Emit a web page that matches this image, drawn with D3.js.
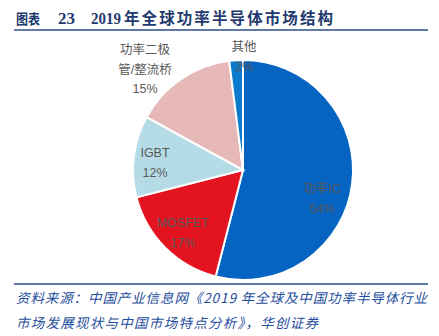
<!DOCTYPE html>
<html><head><meta charset="utf-8">
<script src="https://cdn.jsdelivr.net/npm/d3@7"></script>
<style>body{margin:0;background:#fff;}svg{display:block;}</style>
</head><body>
<script>
const categories = ["功率IC", "MOSFET", "IGBT", "功率二极管/整流桥", "其他"];
const values = [54, 17, 12, 15, 2];
const colors = ["#0563C1", "#E3141F", "#B5DCE6", "#E6B9B8", "#0A7BCC"];

const W = 439, H = 336;
const svg = d3.select("body").append("svg").attr("width", W).attr("height", H);

// title
const title = svg.append("text").attr("y", 23.5)
  .attr("fill", "#1F3A6E").attr("font-weight", "bold");
title.append("tspan").attr("x", 16).attr("font-family", "'Noto Sans CJK SC'").attr("font-size", 14)
  .attr("textLength", 24).attr("lengthAdjust", "spacingAndGlyphs").text("图表");
title.append("tspan").attr("x", 58).attr("font-family", "'Liberation Serif'").attr("font-size", 16.5)
  .attr("textLength", 17).attr("lengthAdjust", "spacingAndGlyphs").text("23");
title.append("tspan").attr("x", 91).attr("font-family", "'Liberation Serif'").attr("font-size", 16.5)
  .attr("textLength", 30).attr("lengthAdjust", "spacingAndGlyphs").text("2019");
title.append("tspan").attr("x", 124).attr("font-family", "'Noto Sans CJK SC'").attr("font-size", 15.5)
  .attr("textLength", 209).attr("lengthAdjust", "spacing").text("年全球功率半导体市场结构");

svg.append("line").attr("x1", 14).attr("x2", 428).attr("y1", 30).attr("y2", 30)
  .attr("stroke", "#2B4C8C").attr("stroke-width", 1.6);
svg.append("line").attr("x1", 14).attr("x2", 428).attr("y1", 284).attr("y2", 284)
  .attr("stroke", "#2B4C8C").attr("stroke-width", 1.6);

const cx = 243, cy = 170, R = 110;
const pie = d3.pie().sort(null).value(d => d)(values);
const arc = d3.arc().innerRadius(0).outerRadius(R);
const g = svg.append("g").attr("transform", `translate(${cx},${cy})`);
g.selectAll("path").data(pie).join("path")
  .attr("d", arc)
  .attr("fill", (d, i) => colors[i])
  .attr("stroke", "#fff").attr("stroke-width", 2);

// labels
const labelFont = "'Liberation Sans','Noto Sans CJK SC',sans-serif";
const labelSpecs = [
  {lines: ["功率IC", "54%"], x: 322, y: 193},
  {lines: ["MOSFET", "17%"], x: 183, y: 227},
  {lines: ["IGBT", "12%"], x: 155, y: 157},
  {lines: ["功率二极", "管/整流桥", "15%"], x: 145, y: 54},
  {lines: ["其他", "2%"], x: 244, y: 51}
];
const lineH = [20, 20, 20, 19.5, 20];
labelSpecs.forEach((s, i) => {
  const t = svg.append("text").attr("text-anchor", "middle")
    .attr("font-family", labelFont).attr("font-size", 12.5).attr("fill", "#595959");
  s.lines.forEach((ln, j) => {
    t.append("tspan").attr("x", s.x).attr("y", s.y + j * lineH[i]).text(ln);
  });
});

// source
const src = svg.append("g").attr("font-family", "'Noto Sans CJK SC',sans-serif")
  .attr("font-size", 13.5).attr("font-style", "italic").attr("fill", "#1F4E9C");
src.append("text").attr("x", 16).attr("y", 303).attr("textLength", 411).attr("lengthAdjust", "spacing")
  .text("资料来源：中国产业信息网《2019 年全球及中国功率半导体行业");
src.append("text").attr("x", 16).attr("y", 328).attr("textLength", 302).attr("lengthAdjust", "spacing")
  .text("市场发展现状与中国市场特点分析》，华创证券");
</script>
</body></html>
